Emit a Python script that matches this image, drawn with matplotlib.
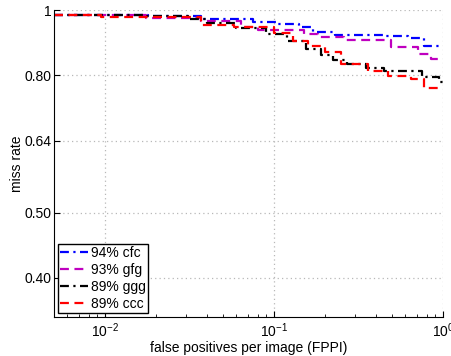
import numpy as np
import matplotlib as mpl
mpl.use('Agg')
import matplotlib.pyplot as plt
from matplotlib.ticker import FixedLocator, FixedFormatter, LogLocator, NullFormatter

mpl.rcParams['font.family'] = ['Liberation Sans', 'DejaVu Sans']
mpl.rcParams['font.size'] = 10

# miss rate vs FPPI
cfc_fppi = [0.005, 0.018, 0.037, 0.075, 0.105, 0.14, 0.17, 0.23, 0.45, 0.62, 0.77, 1.0]
cfc_mr = [0.984, 0.979, 0.970, 0.961, 0.953, 0.943, 0.927, 0.919, 0.914, 0.908, 0.884, 0.884]

gfg_fppi = [0.005, 0.0175, 0.037, 0.064, 0.08, 0.15, 0.182, 0.26, 0.49, 0.71, 0.85, 1.0]
gfg_mr = [0.984, 0.973, 0.964, 0.943, 0.935, 0.921, 0.912, 0.903, 0.882, 0.860, 0.845, 0.845]

ggg_fppi = [0.005, 0.017, 0.031, 0.04, 0.06, 0.09, 0.12, 0.155, 0.19, 0.225, 0.27, 0.35,
            0.45, 0.75, 0.95, 1.0]
ggg_mr = [0.984, 0.979, 0.970, 0.955, 0.939, 0.921, 0.899, 0.874, 0.857, 0.842, 0.831, 0.821,
          0.812, 0.796, 0.781, 0.781]

ccc_fppi = [0.005, 0.0095, 0.037, 0.058, 0.1, 0.13, 0.16, 0.2, 0.25, 0.36, 0.47, 0.65, 0.77, 1.0]
ccc_mr = [0.984, 0.976, 0.950, 0.943, 0.924, 0.899, 0.884, 0.866, 0.831, 0.811, 0.797, 0.789,
          0.765, 0.765]

labels = ['94% cfc', '93% gfg', '89% ggg', '89% ccc']
yticks = [0.40, 0.50, 0.64, 0.80, 1.0]
ytick_labels = ['0.40', '0.50', '0.64', '0.80', '1']

fig = plt.figure(figsize=(4.51, 3.56), dpi=100)
ax = fig.add_axes([54 / 451, 1 - 317 / 356, (443 - 54) / 451, (317 - 10) / 356])

dashdot = (0, (4, 2, 1, 2))
dashed = (0, (4, 2.5))
ax.step(cfc_fppi, cfc_mr, where='post', color='b', ls=dashdot, lw=1.6, label=labels[0])
ax.step(gfg_fppi, gfg_mr, where='post', color='m', ls=dashed, lw=1.6, label=labels[1])
ax.step(ggg_fppi, ggg_mr, where='post', color='k', ls=dashdot, lw=1.6, label=labels[2])
ax.step(ccc_fppi, ccc_mr, where='post', color='r', ls=dashed, lw=1.6, label=labels[3])

ax.set_xscale('log')
ax.set_yscale('log')
ax.set_xlim(0.005, 1)
ax.set_ylim(0.35, 1)

ax.yaxis.set_major_locator(FixedLocator(yticks))
ax.yaxis.set_major_formatter(FixedFormatter(ytick_labels))
ax.yaxis.set_minor_locator(FixedLocator([]))
ax.xaxis.set_major_locator(LogLocator(base=10))
ax.xaxis.set_minor_locator(LogLocator(base=10, subs=np.arange(2, 10)))
ax.xaxis.set_minor_formatter(NullFormatter())

ax.grid(True, which='major', color='#b8b8b8', ls=(0, (1, 2.5)), lw=0.9)
for s in ['top', 'right']:
    ax.spines[s].set_visible(False)
ax.tick_params(which='both', direction='in', labelsize=10)
ax.tick_params(which='major', length=4)
ax.tick_params(which='minor', length=2)
ax.tick_params(axis='y', pad=1.5)

ax.set_xlabel('false positives per image (FPPI)', labelpad=0.5)
ax.set_ylabel('miss rate', labelpad=0.5)

leg = ax.legend(loc='lower left', fancybox=False, framealpha=1, edgecolor='k',
                handlelength=2.0, handletextpad=0.2, labelspacing=0.22,
                borderaxespad=0.3, borderpad=0.15)
leg.get_frame().set_linewidth(1.0)

fig.savefig('out.png', dpi=100)
